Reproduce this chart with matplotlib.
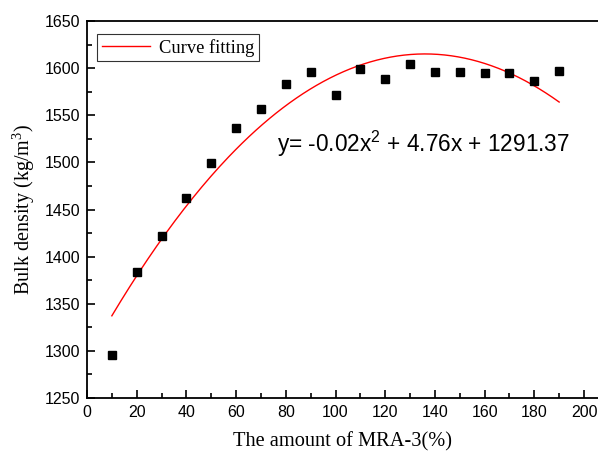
"""Bulk density vs MRA-3 dosage with quadratic fit."""

import matplotlib

matplotlib.use("Agg")
import matplotlib.pyplot as plt
import numpy as np
from matplotlib.ticker import MultipleLocator

mra_amount = [10, 20, 30, 40, 50, 60, 70, 80, 90, 100,
              110, 120, 130, 140, 150, 160, 170, 180, 190]
bulk_density = [1296, 1384, 1422, 1462, 1499, 1536, 1557, 1583, 1596, 1572,
                1599, 1588, 1604, 1596, 1596, 1595, 1595, 1586, 1597]

# quadratic fit coefficients (a, b, c)
fit_coef = [-0.0175, 4.76, 1291.37]
fit_label = "y= -0.02x$^\\mathregular{2}$ + 4.76x + 1291.37"

serif = "Liberation Serif"
sans = "Liberation Sans"

fig = plt.figure(figsize=(5.98, 4.55), dpi=100)
ax = fig.add_axes([87 / 598, 1 - 398 / 455, (598 - 87) / 598, (398 - 21) / 455])

ax.plot(mra_amount, bulk_density, "s", color="black", ms=6.3, zorder=3)
xf = np.linspace(min(mra_amount), max(mra_amount), 200)
ax.plot(xf, np.polyval(fit_coef, xf), color="red", lw=1.0, label="Curve fitting")

ax.set_xlim(0, (598 - 87) / 2.485)
ax.set_ylim(1250, 1650)
ax.xaxis.set_major_locator(MultipleLocator(20))
ax.xaxis.set_minor_locator(MultipleLocator(10))
ax.yaxis.set_major_locator(MultipleLocator(50))
ax.yaxis.set_minor_locator(MultipleLocator(25))
ax.tick_params(which="both", direction="in", width=1.2, top=False, right=False)
ax.tick_params(which="major", length=6, labelsize=11.5, pad=5)
ax.tick_params(which="minor", length=3.5)
for lbl in ax.get_xticklabels() + ax.get_yticklabels():
    lbl.set_fontfamily(sans)
for side in ["left", "bottom", "top"]:
    ax.spines[side].set_linewidth(1.3)
ax.spines["right"].set_visible(False)

ax.set_xlabel("The amount of MRA-3(%)", family=serif, fontsize=14.7, labelpad=9)
ax.set_ylabel("Bulk density (kg/m$^\\mathregular{3}$)", family=serif, fontsize=14.5, labelpad=5)

ax.text(76.5, 1511, fit_label, family=sans, fontsize=16.3, va="baseline")

leg = ax.legend(loc="upper left", bbox_to_anchor=(0.02, 0.965), prop={"family": serif, "size": 13.3},
                frameon=True, fancybox=False, edgecolor="black", borderpad=0.25,
                handlelength=2.6, handletextpad=0.5, borderaxespad=0)
leg.get_frame().set_linewidth(0.8)

fig.savefig("out.png", dpi=100)
